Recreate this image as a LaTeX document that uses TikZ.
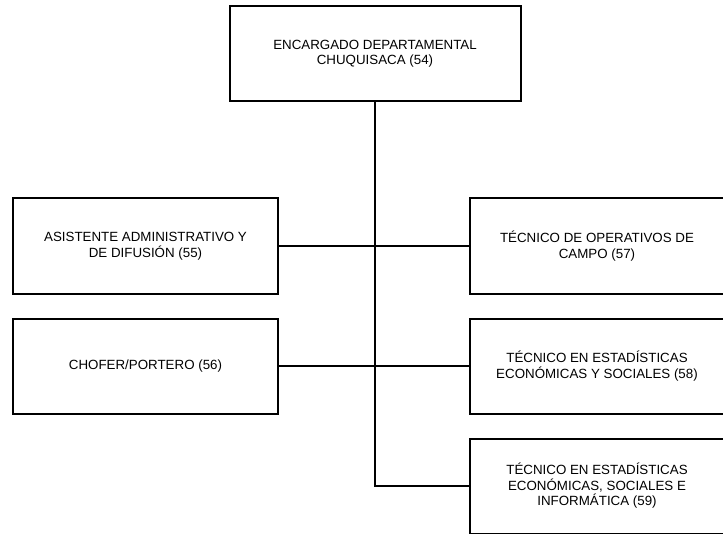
\documentclass[tikz,border=0pt]{standalone}
\usepackage{fontspec}
\setmainfont{Liberation Sans}
\begin{document}
\begin{tikzpicture}[x=0.75pt,y=-0.75pt,
  orgbox/.style={draw=black,line width=1.5pt,fill=white,inner sep=0pt,
    align=center,font=\fontsize{10pt}{11.6pt}\selectfont,
    minimum height=71.25pt},
  wideleft/.style={orgbox,minimum width=198.75pt},
  wideright/.style={orgbox,minimum width=190.5pt},
  link/.style={draw=black,line width=1.5pt}]
\useasboundingbox (0,0) rectangle (723,534);
\clip (0,0) rectangle (723,534);

% head of the office
\node[orgbox,minimum width=218.25pt] (head) at (375,53.5)
  {ENCARGADO DEPARTAMENTAL\\CHUQUISACA (54)};

% left column
\node[wideleft] (asis) at (145.5,246)
  {ASISTENTE ADMINISTRATIVO Y\\DE DIFUSIÓN (55)};
\node[wideleft] (chof) at (145.5,366)
  {CHOFER/PORTERO (56)};

% right column, running past the page edge
\node[wideright] (tec57) at (597,246)
  {TÉCNICO DE OPERATIVOS DE\\CAMPO (57)};
\node[wideright] (tec58) at (597,366)
  {TÉCNICO EN ESTADÍSTICAS\\ECONÓMICAS Y SOCIALES (58)};
\node[wideright] (tec59) at (597,486)
  {TÉCNICO EN ESTADÍSTICAS\\ECONÓMICAS, SOCIALES E\\INFORMÁTICA (59)};

% connectors
\coordinate (turn) at (head.south |- tec59.west);
\draw[link] (head.south) -- (turn) -- (tec59.west);
\draw[link] (asis.east) -- (tec57.west);
\draw[link] (chof.east) -- (tec58.west);
\end{tikzpicture}
\end{document}
